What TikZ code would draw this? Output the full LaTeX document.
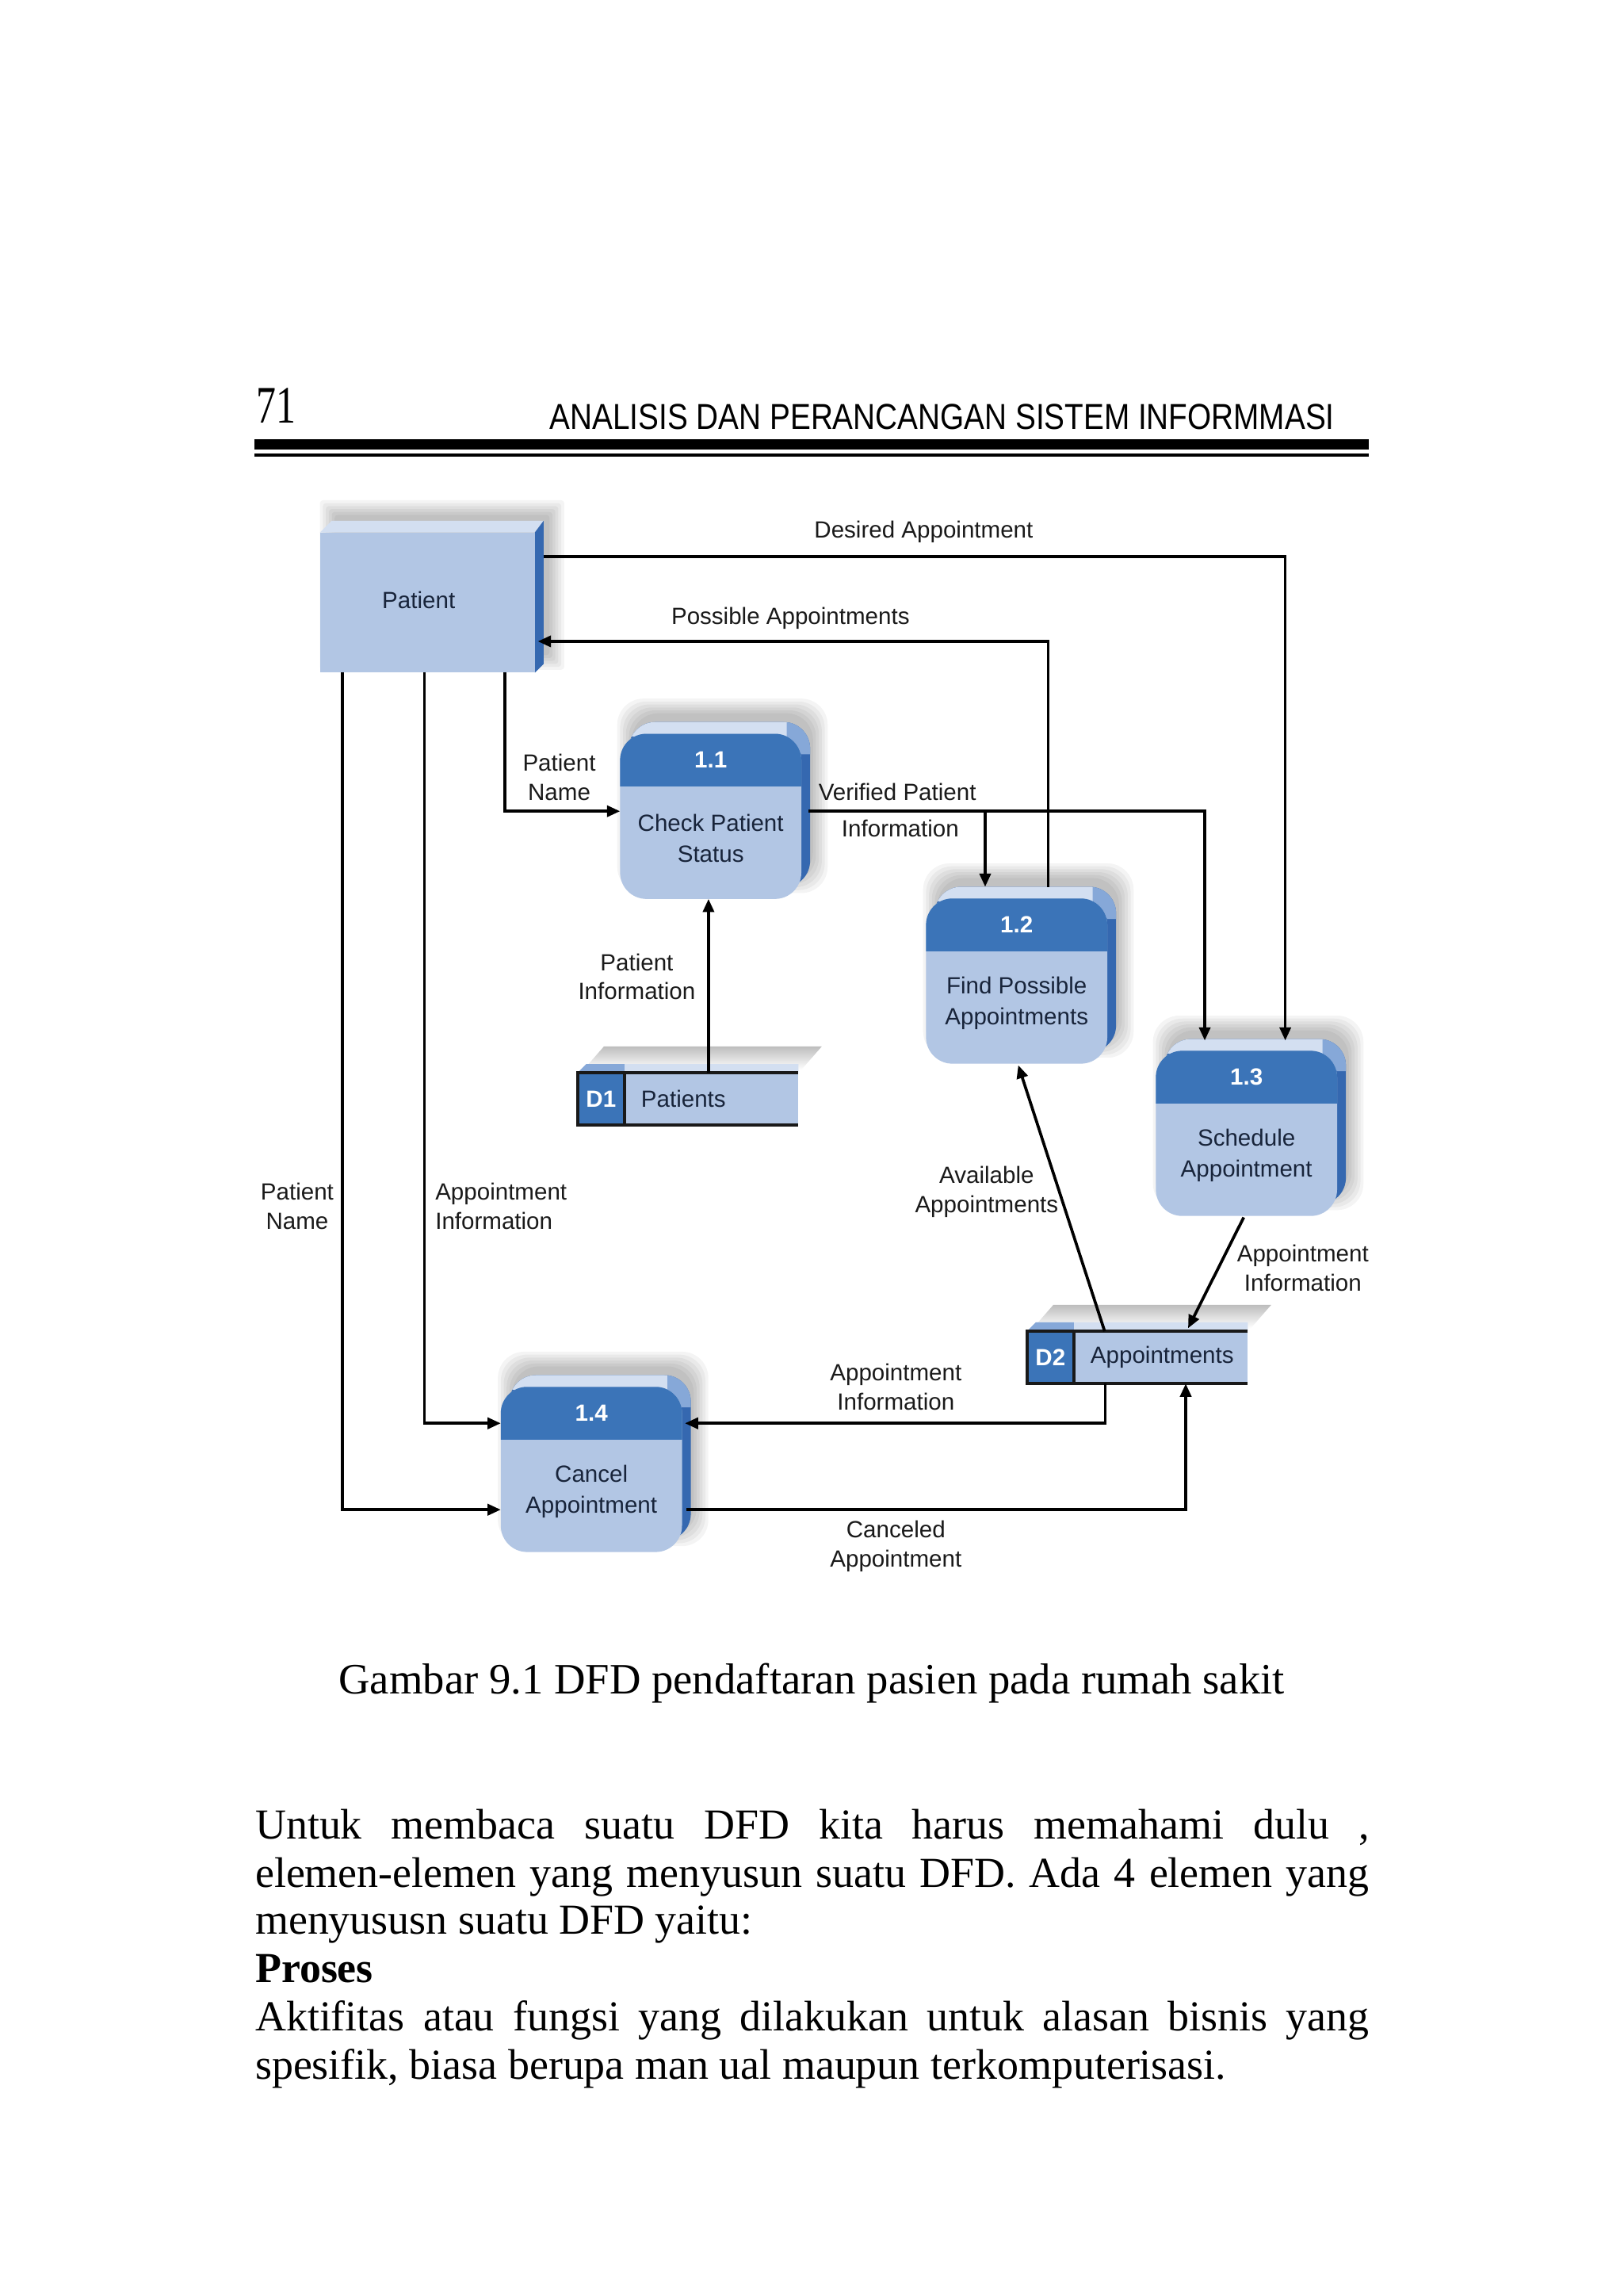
\documentclass[tikz,border=0pt]{standalone}
\usepackage{fontspec}
\setmainfont{Liberation Serif}
\setsansfont{Liberation Sans}
\usetikzlibrary{arrows.meta,calc}
\definecolor{frontc}{HTML}{B2C6E4}
\definecolor{headc}{HTML}{3B74B8}
\definecolor{sidec}{HTML}{3568B0}
\definecolor{topc}{HTML}{D3DFF1}
\definecolor{midc}{HTML}{86A8D8}
\definecolor{shadowc}{HTML}{BDBDBD}
\definecolor{txtc}{HTML}{1A1A1A}
\definecolor{boxtxt}{HTML}{18243A}
\tikzset{
  procnode/.style={minimum width=61.5pt,minimum height=56pt,inner sep=0pt,draw=none},
  storenode/.style={minimum width=75pt,minimum height=17.5pt,inner sep=0pt,draw=none},
  entnode/.style={minimum width=73pt,minimum height=47.5pt,inner sep=0pt,draw=none},
  flow/.style={draw=black,line width=1pt,-{Triangle[length=4.5pt,width=3.8pt]}},
  storeline/.style={draw=black!90,line width=1.1pt},
  shadowlayer/.style={fill=black,opacity=0.045},
  lbl/.style={font=\sffamily\fontsize{8}{10}\selectfont,text=txtc,align=center,inner sep=0pt},
  proctext/.style={font=\sffamily\fontsize{8}{10.5}\selectfont,text=boxtxt,align=center,inner sep=0pt},
  numtext/.style={font=\sffamily\bfseries\fontsize{8}{10}\selectfont,text=white,inner sep=0pt},
  idtext/.style={font=\sffamily\bfseries\fontsize{8}{10}\selectfont,text=white,inner sep=0pt},
  storetext/.style={font=\sffamily\fontsize{8}{10}\selectfont,text=boxtxt,inner sep=0pt},
  bodytext/.style={font=\fontsize{14.6}{16}\selectfont,inner sep=0pt,anchor=base west},
}
% soft shadow of a node's rectangle, shifted by (#2,#3), corner radius #4
\newcommand\softshadow[4]{%
  \foreach \k in {0,...,5}{%
    \fill[shadowlayer,rounded corners=#4] ($(#1.south west)+(#2-2*\k,#3+2*\k)$) rectangle ($(#1.north east)+(#2+2*\k,#3-2*\k)$);
  }%
}
\newcommand\proc[5]{%
  \node[procnode] (#1) at (#2,#3) {};
  \softshadow{#1}{8}{-14}{9pt}
  \fill[sidec,rounded corners=9pt] ($(#1.south west)+(6,-8)$) rectangle ($(#1.north east)+(6,-8)$);
  \begin{scope}
    \clip[rounded corners=9pt] ($(#1.south west)+(6,-8)$) rectangle ($(#1.north east)+(6,-8)$);
    \fill[topc] ($(#1.north west)+(-5,-20)$) rectangle ($(#1.north east)+(-10,2)$);
    \fill[midc] ($(#1.north east)+(-10,-20)$) -- ($(#1.north east)+(-10,2)$) -- ($(#1.north east)+(0,14)$) -- ($(#1.north east)+(12,14)$) -- ($(#1.north east)+(12,-20)$) -- cycle;
  \end{scope}
  \fill[frontc,rounded corners=9pt] (#1.south west) rectangle (#1.north east);
  \begin{scope}
    \clip[rounded corners=9pt] (#1.south west) rectangle (#1.north east);
    \fill[headc] ($(#1.north west)+(-1,-1)$) rectangle ($(#1.north east)+(1,36)$);
  \end{scope}
  \node[numtext] (#1n) at ($(#1.north)+(0,18)$) {#4};
  \node[proctext] (#1t) at ($(#1.center)+(0,15)$) {#5};
}
\newcommand\store[5]{%
  \node[storenode] (#1) at (#2,#3) {};
  \shade[top color=shadowc,bottom color=white] ($(#1.north west)+(4,-2)$) -- ($(#1.north west)+(18,-18)$) -- ($(#1.north east)+(16,-18)$) -- ($(#1.north east)+(2,-2)$) -- cycle;
  \fill[topc] (#1.north west) -- ($(#1.north west)+(6,-6)$) -- ($(#1.north east)+(0,-6)$) -- (#1.north east) -- cycle;
  \fill[midc] (#1.north west) -- ($(#1.north west)+(6,-6)$) -- ($(#1.north west)+(32,-6)$) -- ($(#1.north west)+(32,0)$) -- cycle;
  \fill[frontc] (#1.south west) rectangle (#1.north east);
  \fill[headc] (#1.south west) rectangle ($(#1.north west)+(32,0)$);
  \draw[storeline] (#1.north east) -- (#1.north west) -- (#1.south west) -- (#1.south east);
  \draw[storeline] ($(#1.north west)+(32,0)$) -- ($(#1.south west)+(32,0)$);
  \node[idtext] (#1i) at ($(#1.west)+(16,0)$) {#4};
  \node[storetext,anchor=west] (#1t) at ($(#1.west)+(43,0)$) {#5};
}
\begin{document}
\begin{tikzpicture}[x=0.5pt,y=-0.5pt]
\useasboundingbox (0,0) rectangle (1108.9,1568);
\fill[white] (0,0) rectangle (1108.9,1568);

% ---- page header ----
\node[anchor=base west,inner sep=0pt,font=\fontsize{18}{18}\selectfont] (pgnum) at (175,289) {\scalebox{0.75}[1]{71}};
\node[anchor=base east,inner sep=0pt] (pghead) at (912,293) {\resizebox{268pt}{8.6pt}{\sffamily ANALISIS DAN PERANCANGAN SISTEM INFORMMASI}};
\fill[black] (174,300) rectangle (935,307);
\fill[black] (174,309.5) rectangle (935,312);

% ---- external entity ----
\node[entnode] (ent) at (292,411.5) {};
\softshadow{ent}{10}{-12}{1pt}
\fill[topc] (ent.north west) -- ($(ent.north west)+(8,-8)$) -- ($(ent.north east)+(6,-8)$) -- (ent.north east) -- cycle;
\fill[sidec] (ent.north east) -- ($(ent.north east)+(6,-8)$) -- ($(ent.south east)+(6,-6)$) -- (ent.south east) -- cycle;
\fill[frontc] (ent.south west) rectangle (ent.north east);
\node[proctext] (entt) at (286,410) {Patient};

% ---- processes ----
\proc{p11}{485.5}{557.5}{1.1}{Check Patient\\Status}
\proc{p12}{694.5}{670}{1.2}{Find Possible\\Appointments}
\proc{p13}{851.5}{774}{1.3}{Schedule\\Appointment}
\proc{p14}{404}{1003.5}{1.4}{Cancel\\Appointment}

% ---- data stores ----
\store{d1}{470}{750.5}{D1}{Patients}
\store{d2}{777}{927}{D2}{Appointments}

% ---- bend points ----
\coordinate (da) at (878,380);
\coordinate (pa) at (716,438);
\coordinate (pn) at (345,554);
\coordinate (pn2) at (234,1031);
\coordinate (ai) at (290,972);
\coordinate (vp) at (823,554);
\coordinate (vb) at (673,554);
\coordinate (pi) at (484,700);
\coordinate (ai2) at (755,972);
\coordinate (ca) at (810,1031);

% ---- connectors ----
\draw[flow] ($(ent.east |- da)+(6,0)$) -- (da) -- ($(p13.north -| da)+(0,-7)$);
\draw[flow] ($(p12.north -| pa)+(0,-8)$) -- (pa) -- ($(ent.east |- pa)+(2,0)$);
\draw[flow] (ent.south -| pn) -- (pn) -- (p11.west |- pn);
\draw[flow] (ent.south -| pn2) -- (pn2) -- (p14.west |- pn2);
\draw[flow] (ent.south -| ai) -- (ai) -- (p14.west |- ai);
\draw[flow] ($(p11.east |- vp)+(5,0)$) -- (vp) -- ($(p13.north -| vp)+(0,-7)$);
\draw[flow] (vb) -- ($(p12.north -| vb)+(0,-8)$);
\draw[flow] (d1.north -| pi) -- (p11.south -| pi);
\draw[flow] ($(d2.north west)+(53,0)$) -- ($(p12.south west)+(63,1)$);
\draw[flow] ($(p13.south west)+(60,1)$) -- ($(d2.north west)+(110,-2)$);
\draw[flow] (d2.south -| ai2) -- (ai2) -- ($(p14.east |- ai2)+(2,0)$);
\draw[flow] ($(p14.east |- ca)+(3,0)$) -- (ca) -- (d2.south -| ca);

% ---- labels ----
\node[lbl] (l1) at (631,363) {Desired Appointment};
\node[lbl] (l2) at (540,422) {Possible Appointments};
\node[lbl] (l3) at (382,531) {Patient\\Name};
\node[lbl] (l4a) at (613,541) {Verified Patient};
\node[lbl] (l4b) at (615,566) {Information};
\node[lbl] (l5) at (435,667) {Patient\\Information};
\node[lbl] (l6) at (203,824) {Patient\\Name};
\node[lbl,align=left,anchor=west] (l7) at (297,824) {Appointment\\Information};
\node[lbl] (l8) at (674,814) {Available\\Appointments};
\node[lbl] (l9) at (890,866) {Appointment\\Information};
\node[lbl] (l10) at (612,947) {Appointment\\Information};
\node[lbl] (l11) at (612,1056) {Canceled\\Appointment};

% ---- caption and body ----
\node[anchor=base,inner sep=0pt,font=\fontsize{14.8}{16}\selectfont] (cap) at (554.5,1157) {Gambar 9.1 DFD pendaftaran pasien pada rumah sakit};
\node[bodytext] (b1) at (174,1256) {\makebox[380.5pt][s]{Untuk membaca suatu DFD kita harus memahami dulu ,}};
\node[bodytext] (b2) at (174,1289) {\makebox[380.5pt][s]{elemen-elemen yang menyusun suatu DFD. Ada 4 elemen yang}};
\node[bodytext] (b3) at (174,1321) {menyususn suatu DFD yaitu:};
\node[bodytext,font=\bfseries\fontsize{14.6}{16}\selectfont] (b4) at (174,1354) {Proses};
\node[bodytext] (b5) at (174,1387) {\makebox[380.5pt][s]{Aktifitas atau fungsi yang dilakukan untuk alasan bisnis yang}};
\node[bodytext] (b6) at (174,1420) {spesifik, biasa berupa man ual maupun terkomputerisasi.};
\end{tikzpicture}
\end{document}
